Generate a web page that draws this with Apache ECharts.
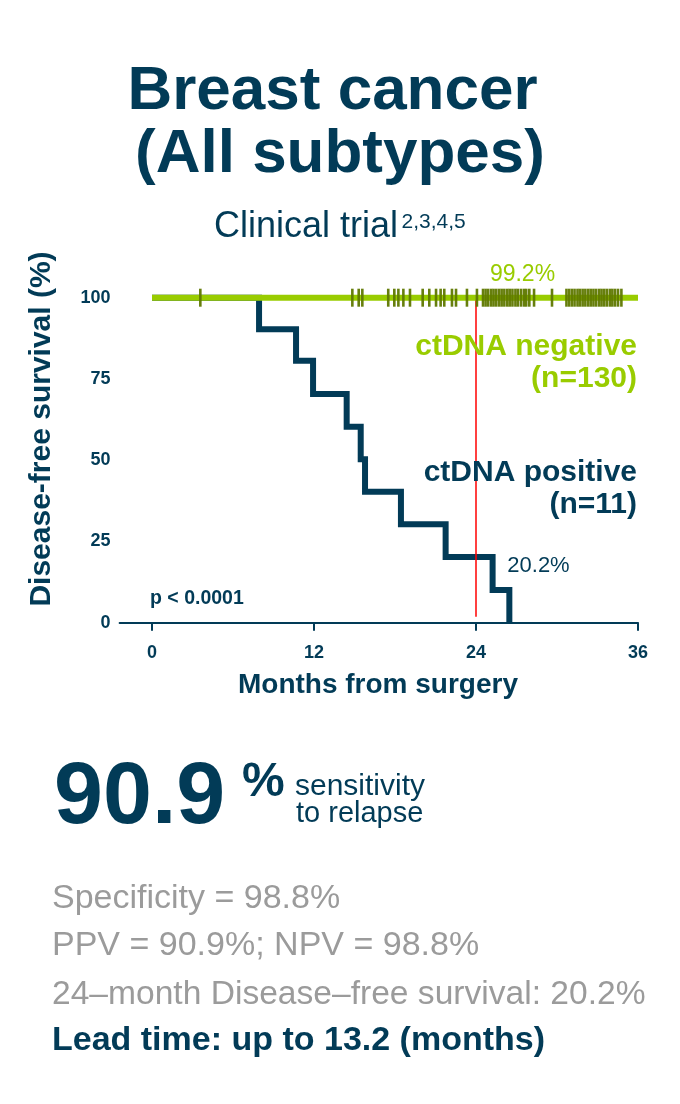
<!DOCTYPE html>
<html><head><meta charset="utf-8">
<script src="https://cdn.jsdelivr.net/npm/echarts@6/dist/echarts.min.js"></script>
<style>html,body{margin:0;padding:0;background:#fff}#c{width:680px;height:1104px}</style>
</head><body><div id="c"></div>
<script>
// ---- data ----
const xTicks = [0, 12, 24, 36];
const yTicks = [0, 25, 50, 75, 100];
const positiveMonths   = [0, 7.93, 10.67, 11.93, 14.42, 15.46, 15.78, 18.44, 21.75, 25.23, 26.47];
const positiveSurvival = [100, 90.3, 80.6, 70.4, 60.3, 50.3, 40.3, 30.3, 20.2, 10.1, 0];
const negativeMonths   = [0, 36];
const negativeSurvival = [100, 100];
const negativeCensorMonths = [
  3.58, 14.84, 15.31, 15.58, 17.5, 17.95, 18.25, 18.62, 19.11, 20.05, 20.54, 21.04,
  21.38, 21.65, 22.22, 22.52, 23.33, 24.07,
  24.52, 24.71, 24.9, 25.12, 25.3, 25.5, 25.71, 25.9, 26.1, 26.32, 26.5, 26.7,
  26.92, 27.1, 27.33, 27.55, 27.72, 27.95,
  28.3, 29.63,
  30.7, 30.9, 31.1, 31.3, 31.52, 31.7, 31.9, 32.1, 32.31, 32.5, 32.7, 32.9,
  33.12, 33.3, 33.5, 33.7, 33.92, 34.1, 34.3, 34.52, 34.77
];
const landmarkMonth = 24;
const landmarkBottom = 1.8;
const negativeLabel = '99.2%';
const positiveLabel = '20.2%';

// ---- styling ----
const NAVY = '#023b57';
const GREEN = '#99cc00';
const OLIVE = '#5f7800';
const GRAY = '#9b9b9b';
const FF = '"Liberation Sans", Arial, sans-serif';

function T(text, x, base, size, weight, color, align) {
  return { type: 'text', x: x, y: base - 0.35 * size, z: 100,
    style: { text: text, font: weight + ' ' + size + 'px ' + FF, fill: color,
             textAlign: align || 'left', textVerticalAlign: 'middle' } };
}

const chart = echarts.init(document.getElementById('c'), null, { renderer: 'canvas' });

const option = {
  animation: false,
  backgroundColor: '#ffffff',
  grid: { left: 119.6, top: 297.7, width: 518.4, height: 325, containLabel: false },
  xAxis: {
    type: 'value', min: -2.4, max: 36,
    axisLine: { show: true, lineStyle: { color: NAVY, width: 2 } },
    axisTick: { show: true, customValues: xTicks, length: 8, lineStyle: { color: NAVY, width: 2 } },
    axisLabel: { show: true, customValues: xTicks, color: NAVY, fontFamily: FF, fontWeight: 'bold', fontSize: 18, margin: 21 },
    splitLine: { show: false }
  },
  yAxis: {
    type: 'value', min: 0, max: 100, interval: 25,
    axisLine: { show: false }, axisTick: { show: false }, splitLine: { show: false },
    axisLabel: { color: NAVY, fontFamily: FF, fontWeight: 'bold', fontSize: 18, margin: 9,
      customValues: yTicks }
  },
  series: [
    { type: 'line', name: 'ctDNA positive', step: 'end', symbol: 'none', clip: false, z: 2,
      data: positiveMonths.map((m, i) => [m, positiveSurvival[i]]),
      lineStyle: { color: NAVY, width: 6, join: 'miter', cap: 'butt' } },
    { type: 'line', name: 'landmark', symbol: 'none', clip: false, z: 3,
      data: [[landmarkMonth, landmarkBottom], [landmarkMonth, 100]],
      lineStyle: { color: '#ff0000', width: 1.5 } },
    { type: 'line', name: 'ctDNA negative', symbol: 'none', clip: false, z: 4,
      data: negativeMonths.map((m, i) => [m, negativeSurvival[i]]),
      lineStyle: { color: GREEN, width: 6, cap: 'butt' } },
    { type: 'scatter', name: 'censored', symbol: 'rect', symbolSize: [2.6, 18], clip: false, z: 5,
      data: negativeCensorMonths.map(m => [m, 100]),
      itemStyle: { color: OLIVE, opacity: 0.95 } }
  ],
  graphic: [
    T('Breast cancer', 332.5, 113.3, 62, 'bold', NAVY, 'center'),
    T('(All subtypes)', 340, 176.7, 62, 'bold', NAVY, 'center'),
    T('Clinical trial', 398, 239.5, 36, 'normal', NAVY, 'right'),
    T('2,3,4,5', 401.5, 230, 21, 'normal', NAVY, 'left'),
    T(negativeLabel, 522.5, 282.7, 23, 'normal', GREEN, 'center'),
    T('ctDNA negative', 637, 357, 30, 'bold', GREEN, 'right'),
    T('(n=130)', 637, 389, 30, 'bold', GREEN, 'right'),
    T('ctDNA positive', 637, 483.3, 30, 'bold', NAVY, 'right'),
    T('(n=11)', 637, 515, 30, 'bold', NAVY, 'right'),
    T(positiveLabel, 507.3, 573.3, 22, 'normal', NAVY, 'left'),
    T('p < 0.0001', 150, 605, 19.5, 'bold', NAVY, 'left'),
    T('Months from surgery', 378, 695, 28, 'bold', NAVY, 'center'),
    { type: 'text', x: 42, y: 429, rotation: Math.PI / 2, z: 100,
      style: { text: 'Disease-free survival (%)', font: 'bold 30px ' + FF, fill: NAVY,
               textAlign: 'center', textVerticalAlign: 'middle' } },
    T('90.9', 54, 830, 88, 'bold', NAVY, 'left'),
    T('%', 242, 799.5, 48, 'bold', NAVY, 'left'),
    T('sensitivity', 295, 797, 30, 'normal', NAVY, 'left'),
    T('to relapse', 296, 824, 29, 'normal', NAVY, 'left'),
    T('Specificity = 98.8%', 52, 911, 34, 'normal', GRAY, 'left'),
    T('PPV = 90.9%; NPV = 98.8%', 52, 958, 34, 'normal', GRAY, 'left'),
    T('24\u2013month Disease\u2013free survival: 20.2%', 52, 1006, 33.6, 'normal', GRAY, 'left'),
    T('Lead time: up to 13.2 (months)', 52, 1053, 34, 'bold', NAVY, 'left')
  ]
};
chart.setOption(option);
</script>
</body></html>
